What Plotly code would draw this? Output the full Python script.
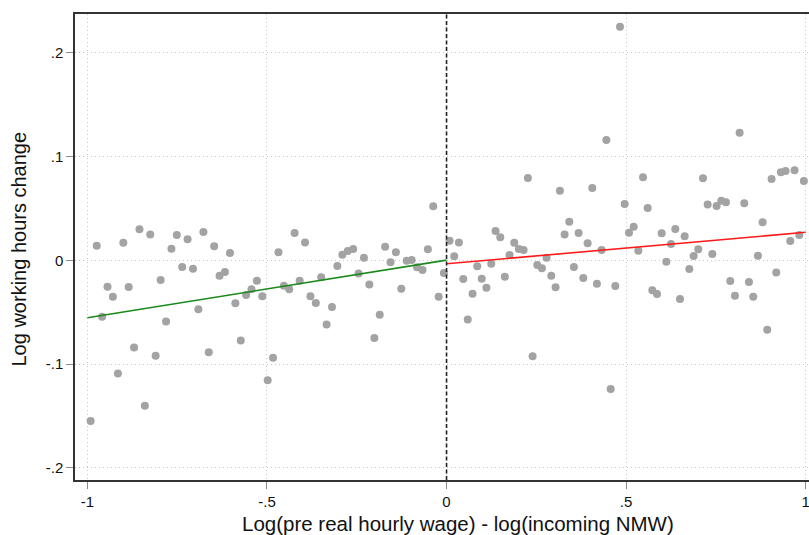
import plotly.graph_objects as go

# ---- data ----
left_x = [-0.991, -0.974, -0.959, -0.944, -0.929, -0.915, -0.900, -0.885, -0.870, -0.855,
          -0.840, -0.825, -0.810, -0.796, -0.781, -0.766, -0.751, -0.736, -0.721, -0.706,
          -0.691, -0.677, -0.662, -0.647, -0.632, -0.617, -0.603, -0.588, -0.573, -0.558,
          -0.543, -0.528, -0.513, -0.498, -0.483, -0.468, -0.453, -0.438, -0.423, -0.409,
          -0.394, -0.379, -0.364, -0.349, -0.334, -0.319, -0.304, -0.290, -0.275, -0.260,
          -0.245, -0.230, -0.215, -0.201, -0.186, -0.171, -0.156, -0.141, -0.126, -0.111,
          -0.097, -0.082, -0.067, -0.052, -0.037, -0.022, -0.0075]
left_y = [-0.1548, 0.0141, -0.0543, -0.0254, -0.0351, -0.109, 0.017, -0.0257, -0.084, 0.0299,
          -0.140, 0.025, -0.0919, -0.019, -0.059, 0.0112, 0.0244, -0.0065, 0.0202, -0.0081,
          -0.0472, 0.0273, -0.0886, 0.0135, -0.0148, -0.0113, 0.0070, -0.0414, -0.0771, -0.0334,
          -0.0279, -0.0197, -0.0347, -0.1156, -0.0938, 0.0077, -0.0245, -0.0279, 0.0263, -0.0197,
          0.0173, -0.0347, -0.0411, -0.0164, -0.0617, -0.045, -0.0055, 0.0054, 0.0090, 0.0109,
          -0.0126, 0.0025, -0.0232, -0.0749, -0.0524, 0.0131, -0.0019, 0.0077, -0.0273, -0.0004,
          0.0003, -0.0067, -0.0093, 0.0106, 0.0520, -0.0351, -0.0122]

right_x = [0.0084, 0.0214, 0.0344, 0.0465, 0.059, 0.0724, 0.0855, 0.098, 0.111, 0.1245,
           0.1365, 0.1496, 0.1624, 0.1755, 0.1886, 0.2014, 0.2145, 0.2265, 0.2396, 0.2526,
           0.2655, 0.2786, 0.2916, 0.3036, 0.3157, 0.3287, 0.3418, 0.3546, 0.3677, 0.3808,
           0.3928, 0.4058, 0.4187, 0.4318, 0.445, 0.457, 0.470, 0.483, 0.496, 0.508,
           0.521, 0.534, 0.547, 0.560, 0.573, 0.586, 0.599, 0.612, 0.625, 0.637,
           0.650, 0.663, 0.676, 0.688, 0.701, 0.714, 0.727, 0.740, 0.752, 0.765,
           0.778, 0.790, 0.803, 0.816, 0.829, 0.842, 0.854, 0.867, 0.880, 0.893,
           0.905, 0.918, 0.931, 0.944, 0.957, 0.969, 0.982, 0.995]
right_y = [0.0189, 0.0039, 0.0173, -0.018, -0.0569, -0.0322, -0.0058, -0.0177, -0.0264, -0.0033,
           0.0282, 0.0222, -0.0158, 0.0051, 0.0170, 0.0109, 0.0099, 0.0793, -0.0925, -0.0045,
           -0.0077, 0.0025, -0.0148, -0.0260, 0.0671, 0.0250, 0.0372, -0.0065, 0.0263, -0.0171,
           0.0164, 0.0697, -0.0225, 0.0099, 0.116, -0.124, -0.0248, 0.225, 0.0542, 0.0266,
           0.0324, 0.0093, 0.080, 0.0504, -0.0289, -0.0325, 0.026, -0.0013, 0.0157, 0.0302,
           -0.0373, 0.0231, -0.0084, 0.0041, 0.0106, 0.0790, 0.0539, 0.0061, 0.0523, 0.0574,
           0.0559, -0.0199, -0.0341, 0.1229, 0.0549, -0.0209, -0.0351, 0.0044, 0.0366, -0.0669,
           0.0783, -0.0116, 0.0848, 0.0860, 0.0186, 0.0867, 0.0244, 0.0764]

# fitted lines (x endpoints and y values)
left_fit_x = [-1.0, 0.0]
left_fit_y = [-0.0553, 0.0002]
right_fit_x = [0.0, 1.0]
right_fit_y = [-0.0033, 0.0270]
cutoff = 0.0

x_tickvals = [-1, -0.5, 0, 0.5, 1]
x_ticktext = ["-1", "-.5", "0", ".5", "1"]
y_tickvals = [-0.2, -0.1, 0, 0.1, 0.2]
y_ticktext = ["-.2", "-.1", "0", ".1", ".2"]

x_title = "Log(pre real hourly wage) - log(incoming NMW)"
y_title = "Log working hours change"

FONT = "Liberation Sans, Arial, Helvetica, sans-serif"
marker = dict(color="#a3a3a3", size=8)

fig = go.Figure()
fig.add_trace(go.Scatter(x=left_x + right_x, y=left_y + right_y, mode="markers",
                         marker=marker, showlegend=False, hoverinfo="x+y"))
fig.add_trace(go.Scatter(x=left_fit_x, y=left_fit_y, mode="lines",
                         line=dict(color="#1a8a1a", width=1.6), showlegend=False))
fig.add_trace(go.Scatter(x=right_fit_x, y=right_fit_y, mode="lines",
                         line=dict(color="#ff1a1a", width=1.6), showlegend=False))

fig.add_shape(type="line", x0=cutoff, x1=cutoff, xref="x", y0=0, y1=1, yref="paper",
              line=dict(color="#222222", width=1.6, dash="4px,2.5px"))

axis_common = dict(
    showgrid=True, gridcolor="#c8c8c8", griddash="1.2px,2.8px", gridwidth=1,
    zeroline=False, showline=True, linecolor="#333333", linewidth=1.5,
    ticks="outside", ticklen=7, tickwidth=1.2, tickcolor="#8a8a8a",
    tickfont=dict(family=FONT, size=15, color="#111111"),
    ticklabeloverflow="allow",
)

fig.update_layout(
    width=809, height=535,
    margin=dict(l=75, r=0, t=14, b=55),
    paper_bgcolor="white", plot_bgcolor="white",
    font=dict(family=FONT, color="#111111"),
    xaxis=dict(range=[-1.0345, 1.0092], tickvals=x_tickvals, ticktext=x_ticktext,
               mirror=True, **axis_common),
    yaxis=dict(range=[-0.2116, 0.2373], tickvals=y_tickvals, ticktext=y_ticktext,
               mirror=False, **axis_common),
    annotations=[
        dict(text=x_title, xref="paper", yref="paper", x=0.5218, y=0,
             xanchor="center", yanchor="middle", yshift=-43, showarrow=False,
             font=dict(family=FONT, size=20.5, color="#111111")),
        dict(text=y_title, xref="paper", yref="paper", x=0, y=0.4946,
             xanchor="center", yanchor="middle", xshift=-56, textangle=-90,
             showarrow=False, font=dict(family=FONT, size=20, color="#111111")),
    ],
)

fig.write_html("out.html")
